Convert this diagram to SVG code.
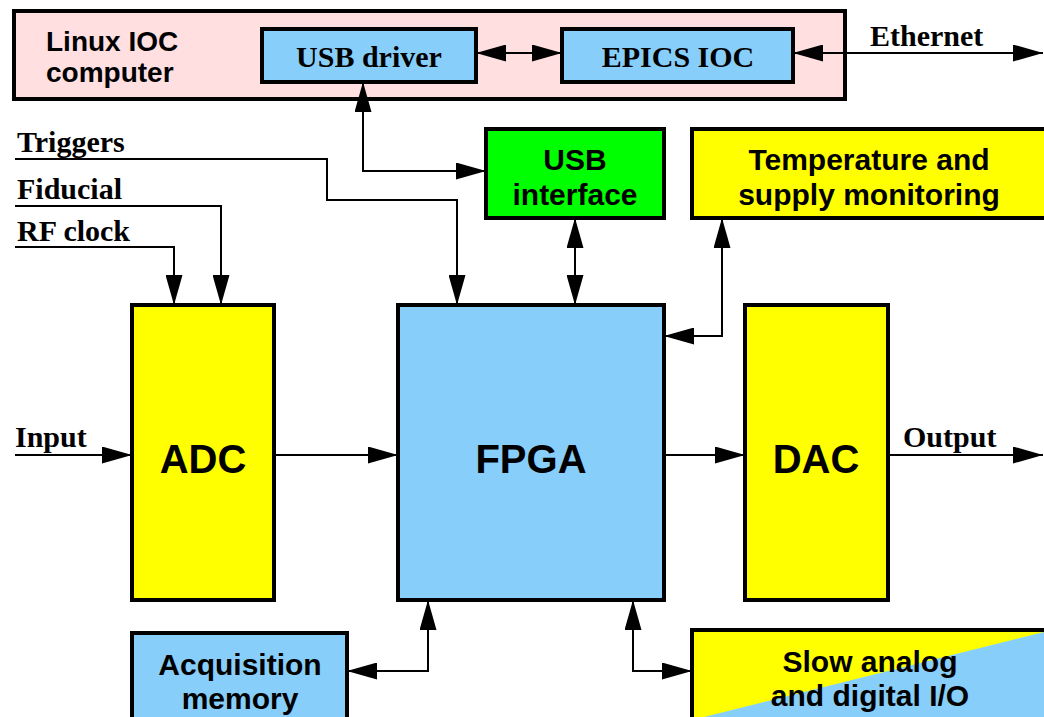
<svg xmlns="http://www.w3.org/2000/svg" width="1044" height="717" viewBox="0 0 1044 717">
<style>
.box{stroke:#000;stroke-width:4}
.pink{fill:#ffdfe0}
.blue{fill:#87cefa}
.yel{fill:#ffff00}
.grn{fill:#00ff00}
.h{font-family:"Liberation Sans",Arial,sans-serif;font-weight:bold;font-size:30px;fill:#000}
.sm{font-size:28px}
.big{font-size:40px}
.t{font-family:"Liberation Serif","Times New Roman",serif;font-weight:bold;font-size:30px;fill:#000}
.c{text-anchor:middle}
.ln{fill:none;stroke:#000;stroke-width:2}
.a{marker-end:url(#ah)}
.b{marker-start:url(#ah);marker-end:url(#ah)}
</style>
<defs>
<marker id="ah" markerUnits="userSpaceOnUse" markerWidth="30" markerHeight="17" refX="30" refY="8.5" orient="auto-start-reverse" viewBox="0 0 30 17">
<path d="M0,0 L30,8.5 L0,17 z" fill="#000"/>
</marker>
<clipPath id="slowclip"><rect x="692" y="630" width="360" height="90"/></clipPath>
</defs>
<rect width="1044" height="717" fill="#fff"/>
<g id="linux">
<rect class="box pink" x="14" y="11" width="831" height="88"/>
<text class="h sm" x="46" y="51">Linux IOC</text>
<text class="h sm" x="46" y="82">computer</text>
</g>
<g id="usbdriver">
<rect class="box blue" x="262" y="29" width="214" height="53"/>
<text class="t c" x="369" y="67">USB driver</text>
</g>
<g id="epics">
<rect class="box blue" x="562" y="29" width="231" height="53"/>
<text class="t c" x="678" y="67">EPICS IOC</text>
</g>
<g id="usbif">
<rect class="box grn" x="486" y="129" width="178" height="89"/>
<text class="h c" x="575" y="170">USB</text>
<text class="h c" x="575" y="205">interface</text>
</g>
<g id="temp">
<rect class="box yel" x="692" y="129" width="360" height="89"/>
<text class="h c" x="869" y="170">Temperature and</text>
<text class="h c" x="869" y="205">supply monitoring</text>
</g>
<g id="adc">
<rect class="box yel" x="132" y="305" width="142" height="295"/>
<text class="h big c" x="203" y="473">ADC</text>
</g>
<g id="fpga">
<rect class="box blue" x="398" y="305" width="266" height="295"/>
<text class="h big c" x="531" y="473">FPGA</text>
</g>
<g id="dac">
<rect class="box yel" x="745" y="305" width="143" height="295"/>
<text class="h big c" x="816" y="473">DAC</text>
</g>
<g id="acqmem">
<rect class="box blue" x="132" y="633" width="215" height="100"/>
<text class="h c" x="240" y="675">Acquisition</text>
<text class="h c" x="240" y="709">memory</text>
</g>
<g id="slowio">
<rect class="yel" x="692" y="630" width="360" height="90"/>
<polygon class="blue" points="692,720 1052,630 1052,720" clip-path="url(#slowclip)"/>
<rect x="692" y="630" width="360" height="100" fill="none" stroke="#000" stroke-width="4"/>
<text class="h c" x="870" y="672">Slow analog</text>
<text class="h c" x="870" y="706">and digital I/O</text>
</g>
<g id="labels">
<text class="t" x="870" y="46">Ethernet</text>
<text class="t" x="17" y="152">Triggers</text>
<text class="t" x="17" y="199">Fiducial</text>
<text class="t" x="17" y="241">RF clock</text>
<text class="t" x="15" y="447">Input</text>
<text class="t" x="903" y="447">Output</text>
</g>
<g id="connectors">
<path class="ln b" d="M476,53 H562"/>
<path class="ln b" d="M793,53 H1043"/>
<path class="ln b" d="M363,82 V171 H486"/>
<path class="ln a" d="M15,159 H327 V200 H457 V305"/>
<path class="ln a" d="M15,206 H221 V305"/>
<path class="ln a" d="M15,247 H174 V305"/>
<path class="ln b" d="M575,218 V305"/>
<path class="ln b" d="M722,218 V336 H664"/>
<path class="ln a" d="M15,455 H132"/>
<path class="ln a" d="M274,455 H398"/>
<path class="ln a" d="M664,455 H745"/>
<path class="ln a" d="M888,455 H1043"/>
<path class="ln b" d="M428,600 V671 H347"/>
<path class="ln b" d="M633,600 V671 H692"/>
</g>
</svg>
